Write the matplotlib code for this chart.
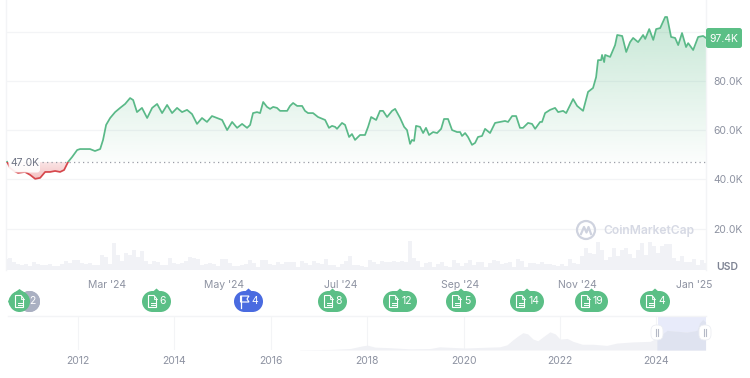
import numpy as np
import matplotlib
matplotlib.use('Agg')
import matplotlib.pyplot as plt
from matplotlib.patches import FancyBboxPatch, Rectangle, Polygon, Circle
from matplotlib.colors import LinearSegmentedColormap, to_rgb

plt.rcParams['font.family'] = ['Inter', 'DejaVu Sans']

# price, x = days since 1 Jan 2024, y = USD thousands
days = [7.9, 9.4, 11.5, 13.6, 17.2, 19.9, 22.5, 25.1, 27.7, 30.3, 32.9, 35.5, 37.6, 39.7, 41.8, 44.4, 45.9,
        48.5, 51.1, 53.7, 56.4, 57.9, 59.5, 61.6, 64.2, 66.8, 69.4, 72.0, 73.6, 75.6, 78.2, 80.9, 83.5, 86.1,
        88.7, 91.3, 93.9, 96.5, 99.1, 101.7, 104.3, 106.9, 109.5, 112.1, 114.7, 117.4, 120.0, 122.6, 125.2,
        127.8, 130.4, 133.0, 134.6, 136.1, 138.2, 139.8, 141.4, 143.4, 145.0, 146.6, 148.6, 150.2, 151.8,
        153.9, 155.4, 157.0, 159.1, 161.7, 163.2, 164.8, 167.4, 170.0, 173.7, 175.7, 177.3, 178.9, 179.9,
        182.5, 184.1, 186.2, 187.7, 189.3, 191.9, 194.5, 196.1, 197.7, 200.3, 202.3, 203.9, 206.0, 208.6,
        210.2, 212.8, 214.9, 216.4, 218.0, 219.0, 220.1, 221.1, 223.2, 224.8, 226.3, 227.9, 230.0, 232.1,
        234.2, 235.7, 237.8, 239.9, 242.5, 244.1, 245.1, 246.7, 248.2, 250.3, 251.9, 253.4, 255.5, 257.1,
        259.7, 262.3, 264.9, 267.5, 269.1, 271.2, 273.3, 275.3, 276.9, 279.5, 281.6, 283.2, 285.8, 286.8,
        288.4, 291.0, 293.6, 295.2, 297.8, 299.4, 303.0, 305.1, 308.2, 310.8, 313.4, 315.0, 316.0, 317.6,
        318.1, 319.2, 319.7, 322.3, 324.9, 326.0, 328.6, 330.7, 332.7, 334.3, 336.9, 339.5, 340.6, 342.7,
        344.8, 346.3, 348.4, 351.0, 352.0, 354.1, 356.2, 357.8, 359.8, 361.9, 363.0, 365.6, 368.2, 370.8, 372.3]
price = [47.1, 44.6, 43.4, 42.6, 43.0, 41.8, 40.2, 40.6, 43.0, 43.0, 43.4, 43.0, 43.8, 47.1, 49.1, 51.9, 52.3,
         52.3, 52.3, 51.5, 52.3, 56.0, 62.1, 64.9, 67.3, 69.0, 70.6, 73.0, 72.2, 67.3, 69.0, 64.9, 69.0, 70.6,
         66.9, 70.2, 66.9, 69.0, 67.3, 68.2, 66.5, 62.5, 64.9, 63.3, 65.7, 64.9, 64.1, 60.0, 63.3,
         60.9, 62.5, 60.9, 62.1, 66.9, 67.3, 66.9, 71.4, 69.4, 68.6, 69.4, 69.0, 67.8, 67.8,
         67.8, 69.8, 71.0, 69.8, 69.8, 67.8, 66.9, 66.9, 65.3, 64.1, 60.9, 61.7, 61.3, 60.5,
         62.9, 62.1, 57.2, 58.4, 56.0, 58.0, 58.0, 61.3, 65.3, 64.1, 67.8, 67.8, 65.3, 67.8,
         68.6, 64.9, 61.3, 60.0, 54.4, 56.0, 55.6, 61.7, 61.3, 58.8, 60.9, 58.0, 59.2, 58.8,
         60.5, 64.5, 64.5, 60.0, 59.2, 59.2, 57.6, 58.8, 57.2, 54.0, 54.8, 57.2, 57.6, 60.5,
         58.8, 62.9, 63.3, 63.7, 63.3, 65.7, 65.7, 60.9, 60.9, 62.9, 62.5, 60.5, 63.3, 63.3,
         66.9, 68.2, 69.0, 67.3, 67.8, 66.9, 72.6, 69.8, 67.8, 75.5, 77.1, 81.5, 88.4, 88.4,
         90.5, 87.6, 90.5, 89.7, 94.5, 98.6, 98.2, 91.7, 95.7, 97.4, 95.7, 98.6, 97.0, 101.0,
         96.6, 101.0, 101.4, 105.9, 105.9, 97.8, 97.4, 94.5, 99.4, 93.7, 95.3, 92.5, 97.8, 98.2, 97.4]
baseline = 47.0

# relative volume, evenly spaced over the visible range
volume = [11, 12, 8, 6, 5, 6, 4, 8, 6, 5, 5, 6, 4, 4, 6, 9, 7, 10, 10, 7, 6, 7, 5, 5, 15, 13, 6, 27, 15, 9, 17, 15,
          20, 13, 19, 9, 6, 9, 8, 5, 5, 12, 7, 6,
          7, 9, 13, 12, 11, 5, 6, 7, 6, 4, 11, 11, 7, 4, 4, 5, 6, 10, 7, 3, 10, 10, 6, 5, 8, 6, 8, 8, 8, 3, 9, 7,
          5, 9, 7, 6, 11, 5, 5, 3, 6, 9, 14, 5, 5,
          4, 3, 10, 8, 6, 9, 8, 8, 9, 8, 9, 8, 29, 12, 9, 3, 7, 8, 3, 6, 8, 4, 3, 10, 7, 4, 7, 10, 5, 8, 8, 3, 7,
          10, 9, 6, 7, 8, 3, 11, 9, 3, 7, 7, 6,
          8, 6, 6, 5, 4, 6, 4, 11, 7, 6, 14, 22, 17, 16, 28, 20, 10, 13, 22, 14, 20, 22, 16, 12, 20, 27, 15, 28,
          24, 17, 24, 26, 26, 12, 9, 14, 8, 8, 11, 5, 10, 7]

# navigator, whole history
nav_years = [2016.6, 2017.23, 2017.64, 2017.89, 2018.0, 2018.16, 2018.47, 2018.89, 2019.3, 2019.5, 2020.03,
             2020.55, 2020.75, 2020.9, 2021.02, 2021.13, 2021.23, 2021.33, 2021.44, 2021.54, 2021.65, 2021.79,
             2021.9, 2022.0, 2022.15, 2022.27, 2022.46, 2022.68, 2022.97, 2023.18, 2023.51, 2023.87, 2024.01,
             2024.22, 2024.63, 2024.84, 2024.9, 2024.96, 2025.02]
nav_price = [1, 2, 5, 14, 17, 10, 8, 4, 5, 11, 7, 10, 11, 18, 35, 49, 60, 56, 38, 32, 46, 63, 56, 38, 40, 30,
             20, 20, 16, 24, 28, 30, 42, 68, 62, 68, 95, 106, 97]
nav_ticks = [2012, 2014, 2016, 2018, 2020, 2022, 2024]

y_ticks = [20, 40, 60, 80]
y_labels = ['20.0K', '40.0K', '60.0K', '80.0K']
month_ticks = [60, 121, 182, 244, 305, 366]
month_labels = ["Mar '24", "May '24", "Jul '24", "Sep '24", "Nov '24", "Jan '25"]

# events along the time axis: centre, width, count, colour, icon
event_x = [156.5, 248.5, 332.5, 400, 461, 527, 591.5, 655]
event_w = [29, 29, 29, 34, 30, 34, 33, 30]
event_n = ['6', '4', '8', '12', '5', '14', '19', '4']
event_c = ['#5bbf86', '#4a6be0', '#5bbf86', '#5bbf86', '#5bbf86', '#5bbf86', '#5bbf86', '#5bbf86']

GREEN = '#5ab988'
RED = '#d6474c'
TXT = '#8d92a1'
GRID = '#f3f4f6'
W, H = 750, 378

fig = plt.figure(figsize=(7.5, 3.78), dpi=100)


def box(x0, y0, x1, y1):
    # pixel box (y from top) to figure fractions
    return [x0 / W, 1 - y1 / H, (x1 - x0) / W, (y1 - y0) / H]


ax = fig.add_axes(box(6, 0, 706, 270))
xlim = (7.3, 372.3)
ylim = (3.2, 112.8)

# volume first, on its own scale (1 unit = 1 px)
vol_ax = fig.add_axes(box(6, 0, 706, 270), zorder=0)
vol_x = np.linspace(xlim[0], xlim[1], len(volume))
vol_ax.bar(vol_x, volume, width=(vol_x[1] - vol_x[0]), color='#f1f2f6', linewidth=0)
vol_ax.set_xlim(xlim)
vol_ax.set_ylim(0, 270)
vol_ax.axis('off')

ax.set_zorder(1)
ax.patch.set_alpha(0)
ax.set_xlim(xlim)
ax.set_ylim(ylim)

for v in y_ticks + [100]:
    ax.axhline(v, color=GRID, lw=0.9, zorder=1)

# gradient fills, clipped to the price curve
x_arr = np.array(days)
y_arr = np.array(price)


def gradient(col, a_bottom, a_top, y0, y1, poly_y):
    cmap = LinearSegmentedColormap.from_list('g', [to_rgb(col) + (a_bottom,), to_rgb(col) + (a_top,)])
    grad = np.linspace(0, 1, 256).reshape(-1, 1)
    im = ax.imshow(grad, cmap=cmap, origin='lower', aspect='auto', extent=(xlim[0], xlim[1], y0, y1), zorder=2)
    poly = Polygon(np.column_stack([np.r_[x_arr[0], x_arr, x_arr[-1]], np.r_[baseline, poly_y, baseline]]),
                   transform=ax.transData, facecolor='none', edgecolor='none')
    ax.add_patch(poly)
    im.set_clip_path(poly)


gradient('#4fb57f', 0.02, 0.32, baseline, max(price), np.maximum(y_arr, baseline))
gradient('#e0585c', 0.38, 0.16, min(price), baseline, np.minimum(y_arr, baseline))
ax.set_xlim(xlim)
ax.set_ylim(ylim)

ax.axhline(baseline, color='#9a9da6', lw=0.9, ls=(0, (1, 2.6)), zorder=3)

up, = ax.plot(days, price, color=GREEN, lw=1.25, zorder=4)
up.set_clip_path(Rectangle((xlim[0], baseline), xlim[1] - xlim[0], 80, transform=ax.transData))
down, = ax.plot(days, price, color=RED, lw=1.25, zorder=4)
down.set_clip_path(Rectangle((xlim[0], 0), xlim[1] - xlim[0], baseline, transform=ax.transData))

ax.yaxis.tick_right()
ax.set_yticks(y_ticks)
ax.set_yticklabels(y_labels, fontsize=7.5, color=TXT)
ax.set_xticks(month_ticks)
ax.set_xticklabels(month_labels, fontsize=7.5, color=TXT)
ax.tick_params(axis='both', length=0)
ax.tick_params(axis='y', pad=5)
ax.tick_params(axis='x', pad=7.5)
for s in ['top', 'bottom']:
    ax.spines[s].set_visible(False)
for s in ['left', 'right']:
    ax.spines[s].set_color(GRID)
    ax.spines[s].set_linewidth(1)

# navigator
nav = fig.add_axes(box(8, 316, 706, 350))
nav.set_xlim(2012 + (8 - 78) / 48.2, 2012 + (706 - 78) / 48.2)
nav.set_ylim(0, 118)
for yr in nav_ticks:
    nav.axvline(yr, color=GRID, lw=0.8, zorder=1)
nav.axvspan(2024.03, 2025.03, color='#e8ebfa', lw=0, zorder=2)
nav.fill_between(nav_years, nav_price, color='#f0f1f5', lw=0, zorder=3)
sel = [i for i, yr in enumerate(nav_years) if yr >= 2024.01]
nav.fill_between([nav_years[i] for i in sel], [nav_price[i] for i in sel], color='#dfe3f0', lw=0, zorder=4)
nav.set_xticks(nav_ticks)
nav.set_xticklabels([str(yr) for yr in nav_ticks], fontsize=7.5, color=TXT)
nav.set_yticks([])
nav.tick_params(axis='x', length=0, pad=4)
for s in ['left', 'right', 'bottom']:
    nav.spines[s].set_visible(False)
nav.spines['top'].set_color(GRID)
nav.spines['top'].set_linewidth(1)

# everything that sits on top, in pixel coordinates
top = fig.add_axes([0, 0, 1, 1], zorder=5)
top.set_xlim(0, W)
top.set_ylim(H, 0)
top.axis('off')


def rbox(x0, y0, x1, y1, r, **kw):
    p = FancyBboxPatch((x0 + r, y0 + r), x1 - x0 - 2 * r, y1 - y0 - 2 * r, boxstyle='round,pad=%g,rounding_size=%g' % (r, r), **kw)
    top.add_patch(p)
    return p


def pill(x0, y0, x1, y1, col):
    # true semicircle ends, the round boxstyle comes out too square
    r = (y1 - y0) / 2
    top.add_patch(Rectangle((x0 + r, y0), x1 - x0 - 2 * r, y1 - y0, fc=col, ec='none'))
    top.add_patch(Circle((x0 + r, y0 + r), r, fc=col, ec='none'))
    top.add_patch(Circle((x1 - r, y0 + r), r, fc=col, ec='none'))


def doc_icon(cx, cy):
    top.add_patch(Polygon([(cx - 4, cy - 6), (cx + 1.5, cy - 6), (cx + 4, cy - 3), (cx + 4, cy + 6), (cx - 4, cy + 6)],
                          closed=True, fill=False, ec='white', lw=0.8))
    top.plot([cx - 2, cx + 2], [cy + 1, cy + 1], color='white', lw=0.7)
    top.plot([cx - 2, cx + 2], [cy + 3.5, cy + 3.5], color='white', lw=0.7)
    top.plot([cx + 1, cx + 1, cx + 4], [cy - 6, cy - 3, cy - 3], color='white', lw=0.6)


def flag_icon(cx, cy):
    top.plot([cx - 4, cx - 4], [cy - 6, cy + 6], color='white', lw=0.9)
    top.add_patch(Polygon([(cx - 4, cy - 5.5), (cx + 4.5, cy - 5.5), (cx + 2.5, cy - 2.5), (cx + 4.5, cy + 0.5), (cx - 4, cy + 0.5)],
                          closed=True, fill=False, ec='white', lw=0.8))


# first marker: gray pill behind a green drop
pill(19, 291, 40, 312, '#aab0c2')
top.text(32, 301.5, '2', color='white', fontsize=7.5, ha='center', va='center')
top.add_patch(Circle((19.5, 301.5), 10.5, fc='#5bbf86', ec='none'))
top.add_patch(Polygon([(14, 293), (19.5, 289), (25, 293)], fc='#5bbf86', ec='none'))
top.add_patch(Polygon([(10, 297), (8, 301.5), (10, 306)], fc='#5bbf86', ec='none'))
doc_icon(19.5, 301.5)

for cx, w, n, c in zip(event_x, event_w, event_n, event_c):
    x0 = cx - w / 2
    pill(x0, 291, x0 + w, 312, c)
    top.add_patch(Polygon([(cx - 4, 292), (cx, 288.5), (cx + 4, 292)], fc=c, ec='none'))
    if c == '#4a6be0':
        flag_icon(x0 + 10.5, 301.5)
    else:
        doc_icon(x0 + 10.5, 301.5)
    top.text(x0 + w - (10 if len(n) > 1 else 8.5), 301.5, n, color='white', fontsize=7.5, ha='center', va='center')

# current price tag
rbox(706, 28, 742, 48, 2.5, fc='#5bbf86', ec='none')
top.text(724, 38.5, '97.4K', color='white', fontsize=7.5, ha='center', va='center')

# baseline tag
rbox(8.5, 155, 40, 172.5, 3, fc='white', ec='none', alpha=0.9)
top.text(25, 163.5, '47.0K', color='#6f7484', fontsize=7.5, ha='center', va='center')

top.text(727, 267, 'USD', color='#7f8494', fontsize=7.5, fontweight='semibold', ha='center', va='center')

# watermark
top.add_patch(Circle((586, 230), 9, fill=False, ec='#cfd3df', lw=1.6))
top.plot([581, 584, 586.5, 588.5, 591], [234, 227, 232.5, 227, 234], color='#cfd3df', lw=1.6)
top.text(603, 231, 'CoinMarketCap', color='#d6d9e4', fontsize=8.7, fontweight='semibold', ha='left', va='center')

# navigator handles
for hx in [657, 705]:
    rbox(hx - 6, 325, hx + 6, 340, 5.5, fc='white', ec='#eceef3', lw=0.6)
    top.plot([hx - 1.2, hx - 1.2], [329, 336], color='#b5b9c6', lw=0.8)
    top.plot([hx + 1.2, hx + 1.2], [329, 336], color='#b5b9c6', lw=0.8)

fig.savefig('out.png', dpi=100)
